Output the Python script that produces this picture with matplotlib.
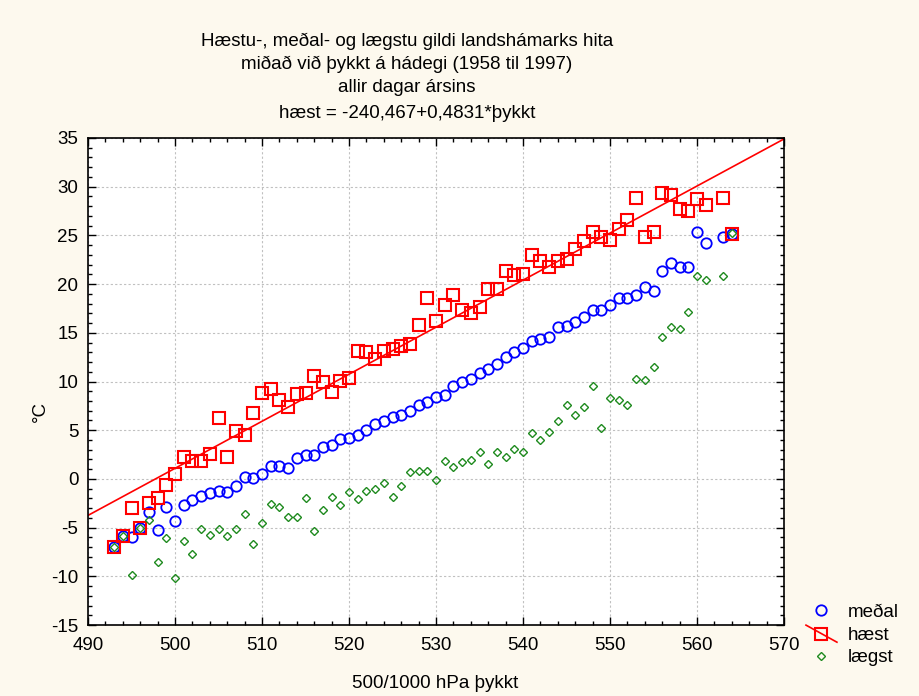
import numpy as np
import matplotlib.pyplot as plt
import matplotlib.ticker as ticker
from matplotlib.lines import Line2D
from matplotlib.legend_handler import HandlerLine2D

# thickness values (no data at 562)
thykkt = list(range(493, 562)) + [563, 564]

medal = [-7.0, -5.9, -6.0, -5.0, -3.4, -5.2, -2.9, -4.3, -2.7, -2.2,
         -1.8, -1.4, -1.2, -1.3, -0.7, 0.2, 0.05, 0.55, 1.3, 1.3,
         1.15, 2.1, 2.5, 2.5, 3.25, 3.45, 4.05, 4.2, 4.55, 5.0,
         5.6, 5.9, 6.4, 6.6, 6.95, 7.55, 7.85, 8.4, 8.6, 9.5,
         10.0, 10.3, 10.85, 11.3, 11.8, 12.5, 13.0, 13.45, 14.2, 14.4,
         14.6, 15.55, 15.7, 16.15, 16.65, 17.35, 17.35, 17.85, 18.55, 18.6,
         18.85, 19.7, 19.3, 21.3, 22.2, 21.8, 21.8, 25.4, 24.2, 24.8,
         25.15]

haest = [-7.0, -5.9, -2.95, -5.0, -2.45, -2.0, -0.6, 0.5, 2.2, 1.85,
         1.85, 2.55, 6.3, 2.2, 4.95, 4.5, 6.8, 8.85, 9.2, 8.15,
         7.35, 8.75, 8.85, 10.55, 9.95, 8.9, 10.05, 10.4, 13.1, 13.0,
         12.3, 13.15, 13.3, 13.6, 13.9, 15.85, 18.6, 16.2, 17.85, 18.9,
         17.3, 17.0, 17.7, 19.5, 19.5, 21.3, 20.9, 21.0, 23.0, 22.4,
         21.75, 22.4, 22.55, 23.6, 24.45, 25.4, 24.8, 24.5, 25.7, 26.6,
         28.85, 24.8, 25.4, 29.4, 29.15, 27.7, 27.55, 28.7, 28.1, 28.85,
         25.15]

laegst = [-7.0, -5.9, -9.85, -5.0, -4.25, -8.5, -6.1, -10.2, -6.4, -7.7,
          -5.15, -5.75, -5.15, -5.9, -5.15, -3.65, -6.65, -4.55, -2.55, -2.9,
          -3.9, -3.9, -1.95, -5.3, -3.2, -1.9, -2.7, -1.33, -2.1, -1.2,
          -1.05, -0.4, -1.9, -0.75, 0.7, 0.8, 0.8, -0.1, 1.85, 1.2,
          1.7, 1.97, 2.77, 1.55, 2.77, 2.25, 3.07, 2.77, 4.74, 3.96,
          4.85, 5.94, 7.58, 6.55, 7.42, 9.58, 5.19, 8.35, 8.07, 7.58,
          10.3, 10.14, 11.5, 14.54, 15.6, 15.42, 17.13, 20.8, 20.45, 20.8,
          25.2]

# regression line for hæst
fit_a = -240.467
fit_b = 0.4831

title_lines = ["Hæstu-, meðal- og lægstu gildi landshámarks hita",
               "miðað við þykkt á hádegi (1958 til 1997)",
               "allir dagar ársins",
               "hæst = -240,467+0,4831*þykkt"]

BG = '#fdf9ee'
FS = 13.5


class SlantedLineHandler(HandlerLine2D):
    # legend line drawn from upper left to lower right, like the original
    def create_artists(self, legend, orig_handle, xdescent, ydescent,
                       width, height, fontsize, trans):
        artists = super().create_artists(legend, orig_handle, xdescent, ydescent,
                                         width, height, fontsize, trans)
        line = artists[0]
        xd = np.asarray(line.get_xdata(), dtype=float)
        y_top = height * 1.1 - ydescent
        y_bot = -height * 0.2 - ydescent
        yd = y_top + (xd - xd[0]) / (xd[-1] - xd[0]) * (y_bot - y_top)
        line.set_ydata(yd)
        return artists


def main():
    plt.rcParams['font.family'] = ['Liberation Sans', 'DejaVu Sans']
    plt.rcParams['font.size'] = FS
    plt.rcParams['axes.unicode_minus'] = False

    fig = plt.figure(figsize=(9.19, 6.96), dpi=100, facecolor=BG)
    ax = fig.add_axes([88 / 919, 1 - 625 / 696, (784 - 88) / 919, (625 - 138) / 696])
    ax.set_facecolor('white')

    ax.plot(thykkt, medal, linestyle='none', marker='o', markersize=7.5,
            markerfacecolor='none', markeredgecolor='#0000ff', markeredgewidth=1.3,
            zorder=3)
    ax.plot(thykkt, haest, linestyle='none', marker='s', markersize=8,
            markerfacecolor='none', markeredgecolor='#ff0000', markeredgewidth=1.5,
            zorder=4)
    ax.plot(thykkt, laegst, linestyle='none', marker='D', markersize=4.3,
            markerfacecolor='none', markeredgecolor='#1e8a1e', markeredgewidth=1.0,
            zorder=5)

    xs = np.array([490, 570])
    ax.plot(xs, fit_a + fit_b * xs, color='#ff0000', linewidth=1.2, zorder=2)

    ax.set_xlim(490, 570)
    ax.set_ylim(-15, 35)
    ax.xaxis.set_major_locator(ticker.MultipleLocator(10))
    ax.xaxis.set_minor_locator(ticker.MultipleLocator(2))
    ax.yaxis.set_major_locator(ticker.MultipleLocator(5))
    ax.yaxis.set_minor_locator(ticker.MultipleLocator(1))
    ax.tick_params(which='both', direction='in', top=True, right=True,
                   width=1, color='black')
    ax.tick_params(which='major', length=6)
    ax.tick_params(which='minor', length=3)
    ax.tick_params(axis='x', which='major', pad=9, labelsize=FS)
    ax.tick_params(axis='y', which='major', pad=7, labelsize=FS)
    ax.grid(True, which='major', color='#c0c0c0', linestyle=(0, (2, 2)), linewidth=0.8)
    ax.set_axisbelow(True)
    for sp in ax.spines.values():
        sp.set_linewidth(1.2)

    # titles
    ys = [41, 64, 87, 114]
    for txt, yp in zip(title_lines, ys):
        fig.text(407 / 919, 1 - yp / 696, txt, ha='center', va='center', fontsize=FS)

    fig.text(435 / 919, 1 - 683 / 696, "500/1000 hPa þykkt", ha='center', va='center', fontsize=FS)
    fig.text(40 / 919, 1 - 412 / 696, "°C", ha='center', va='center', rotation=90, fontsize=FS)

    # legend
    h_medal = Line2D([], [], linestyle='none', marker='o', markersize=7.5,
                     markerfacecolor='none', markeredgecolor='#0000ff', markeredgewidth=1.3)
    h_haest = Line2D([], [], color='#ff0000', linewidth=1.2, marker='s', markersize=8,
                     markerfacecolor='none', markeredgecolor='#ff0000', markeredgewidth=1.5)
    h_laegst = Line2D([], [], linestyle='none', marker='D', markersize=4.3,
                      markerfacecolor='none', markeredgecolor='#1e8a1e', markeredgewidth=1.0)
    fig.legend([h_medal, h_haest, h_laegst], ['meðal', 'hæst', 'lægst'],
               loc='center left', bbox_to_anchor=(798.5 / 919, 1 - 635 / 696),
               frameon=False, fontsize=FS, handlelength=1.65, handletextpad=0.59,
               labelspacing=0.3, borderaxespad=0, numpoints=1,
               handler_map={h_haest: SlantedLineHandler()})

    fig.savefig('out.png', dpi=100, facecolor=BG)


if __name__ == "__main__":
    main()
